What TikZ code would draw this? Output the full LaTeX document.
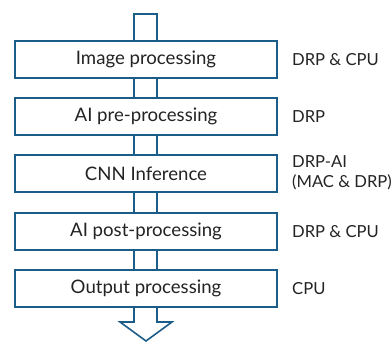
\documentclass[tikz,border=0pt]{standalone}
\usepackage{fontspec}
\setmainfont{Lato}
\definecolor{edge}{RGB}{28,92,136}
\definecolor{ink}{RGB}{35,35,35}
\begin{document}
\begin{tikzpicture}[x=1pt,y=-1pt,
  stage/.style={draw=edge,line width=1.6pt,fill=white,minimum width=262pt,minimum height=37pt,inner sep=0pt,text=ink,font=\fontsize{18.6}{21}\selectfont},
  unit/.style={anchor=west,text=ink,align=left,inner sep=0pt,font=\fontsize{16.6}{20}\selectfont}]
\useasboundingbox (0,0) rectangle (392,342);
% arrow outline behind boxes
\coordinate (tl) at (134,14);
\coordinate (tr) at (157,14);
\coordinate (bl) at (134,322);
\coordinate (br) at (157,322);
\coordinate (hl) at (120,322);
\coordinate (hr) at (172,322);
\coordinate (tip) at (146,341);
\draw[edge,line width=1.6pt,line join=miter] (bl) -- (tl) -- (tr) -- (br) -- (hr) -- (tip) -- (hl) -- cycle;
\node[stage] (s1) at (146,59.5) {Image processing};
\node[stage] (s2) at (146,116.5) {AI pre-processing};
\node[stage] (s3) at (146,173.5) {CNN Inference};
\node[stage] (s4) at (146,231.5) {AI post-processing};
\node[stage] (s5) at (146,288.5) {Output processing};
\node[unit] (u1) at (292,60) {DRP \& CPU};
\node[unit] (u2) at (292,117) {DRP};
\node[unit] (u3) at (292,173) {DRP-AI\\(MAC \& DRP)};
\node[unit] (u4) at (292,232) {DRP \& CPU};
\node[unit] (u5) at (292,289) {CPU};
\end{tikzpicture}
\end{document}
